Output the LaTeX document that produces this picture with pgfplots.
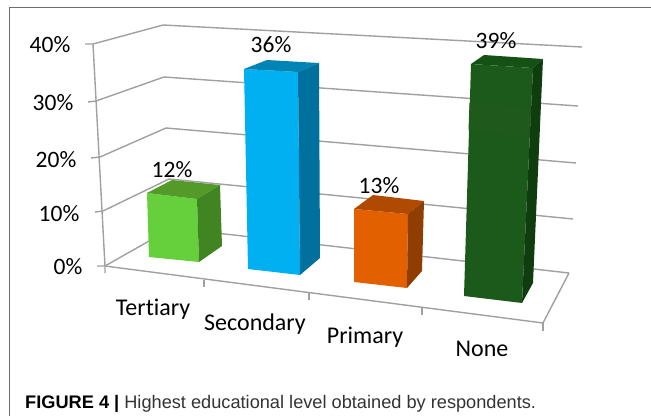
\documentclass[border=0pt]{standalone}
\usepackage{fontspec}
\setmainfont[Ligatures=CommonOff]{Carlito}
\newfontfamily\capfont{Liberation Sans}
\usepackage{pgfplots}
\pgfplotsset{compat=1.18}

\definecolor{gridc}{HTML}{A0A0A0}
\definecolor{framec}{HTML}{6E6E6E}
\definecolor{terF}{HTML}{66D03C}
\definecolor{terT}{HTML}{539A28}
\definecolor{terS}{HTML}{408522}
\definecolor{secF}{HTML}{00B0F0}
\definecolor{secT}{HTML}{0084B4}
\definecolor{secS}{HTML}{00709F}
\definecolor{priF}{HTML}{E36000}
\definecolor{priT}{HTML}{B04A00}
\definecolor{priS}{HTML}{8F3D00}
\definecolor{nonF}{HTML}{1B5A1B}
\definecolor{nonB}{HTML}{20591C}
\definecolor{nonT}{HTML}{155015}
\definecolor{nonS}{HTML}{0F3D0D}

\tikzset{
    gridl/.style={gridc, line width=1.4pt, mark=none},
    face/.style={draw=none, fill=#1, mark=none},
    lab/.style={anchor=base, font=\fontsize{23.5}{25}\selectfont, text=black, inner sep=0pt},
    cat/.style={lab, font=\fontsize{24}{26}\selectfont},
}

\begin{document}
\begin{tikzpicture}
\begin{axis}[
    hide axis,
    scale only axis,
    width=651pt,
    height=416pt,
    xmin=0, xmax=651,
    ymin=0, ymax=416,
    y dir=reverse,
]
% keep the whole canvas in the bounding box
\path (axis cs:0,0) rectangle (axis cs:651,416);

% figure frame
\addplot[framec, line width=0.9pt, mark=none] coordinates {(9.5,416) (9.5,7.5) (651,7.5)};

% back wall + side wall gridlines, 40% down to 0%
\addplot[gridl] coordinates {(85,44) (93,44) (163,25) (582,47)};
\addplot[gridl] coordinates {(88,102) (96,101) (164,77) (578,106)};
\addplot[gridl] coordinates {(91,158) (100,157) (166,128) (576,163)};
\addplot[gridl] coordinates {(95,212) (103,211) (169,179) (573,219)};
\addplot[gridl] coordinates {(97,266) (105,266) (172,228) (569,273)};

% value axis, floor edges and ticks
\addplot[gridl] coordinates {(93,44) (105,266) (105,273)};
\addplot[gridl] coordinates {(105,266) (543,323) (569,273)};
\addplot[gridl] coordinates {(543,323) (543,331)};
\addplot[gridl] coordinates {(204,280) (204,287)};
\addplot[gridl] coordinates {(309,293) (309,300)};
\addplot[gridl] coordinates {(422,308) (422,315)};

% Tertiary 12%
\addplot[face=terF] coordinates {(147,193) (197,199) (199,262) (149,257)} --cycle;
\addplot[face=terT] coordinates {(147,193) (197,199) (220,185) (172,180)} --cycle;
\addplot[face=terS] coordinates {(197,199) (220,185) (222,246) (199,262)} --cycle;

% Secondary 36%
\addplot[face=secF] coordinates {(244,69) (298,72) (300,275) (248,269)} --cycle;
\addplot[face=secT] coordinates {(244,69) (298,72) (319,63) (267,60)} --cycle;
\addplot[face=secS] coordinates {(298,72) (319,63) (320,258) (300,275)} --cycle;

% Primary 13%
\addplot[face=priF] coordinates {(354,209) (408,214) (407,288) (354,282)} --cycle;
\addplot[face=priT] coordinates {(354,209) (408,214) (424,201) (373,195)} --cycle;
\addplot[face=priS] coordinates {(408,214) (424,201) (422,271) (407,288)} --cycle;

% None 39%
\addplot[face=nonF] coordinates {(471,64) (533,68) (522,303) (464,296)} --cycle;
\addplot[face=nonB] coordinates {(469.5,103) (531,108) (530,137) (468.5,130)} --cycle;
\addplot[face=nonT] coordinates {(471,64) (533,68) (543,59) (484,55)} --cycle;
\addplot[face=nonS] coordinates {(533,68) (543,59) (533,283) (522,303)} --cycle;

% value axis labels
\node[lab] at (axis cs:50,52) {40\%};
\node[lab] at (axis cs:53,110) {30\%};
\node[lab] at (axis cs:56,167) {20\%};
\node[lab] at (axis cs:59,221) {10\%};
\node[lab] at (axis cs:68,274) {0\%};

% data labels
\node[lab] at (axis cs:172,177) {12\%};
\node[lab] at (axis cs:271,52) {36\%};
\node[lab] at (axis cs:379,193) {13\%};
\node[lab] at (axis cs:496,48) {39\%};

% categories
\node[cat] at (axis cs:153,315) {Tertiary};
\node[cat] at (axis cs:255,330) {Secondary};
\node[cat] at (axis cs:365,343) {Primary};
\node[cat] at (axis cs:482,356) {None};

% caption
\node[anchor=base west, inner sep=0pt, text=black!80, font=\capfont\fontsize{18.2}{20}\selectfont]
    at (axis cs:25,408) {\textcolor{black}{\textbf{FIGURE 4 |}} Highest educational level obtained by respondents.};
\end{axis}
\end{tikzpicture}
\end{document}
